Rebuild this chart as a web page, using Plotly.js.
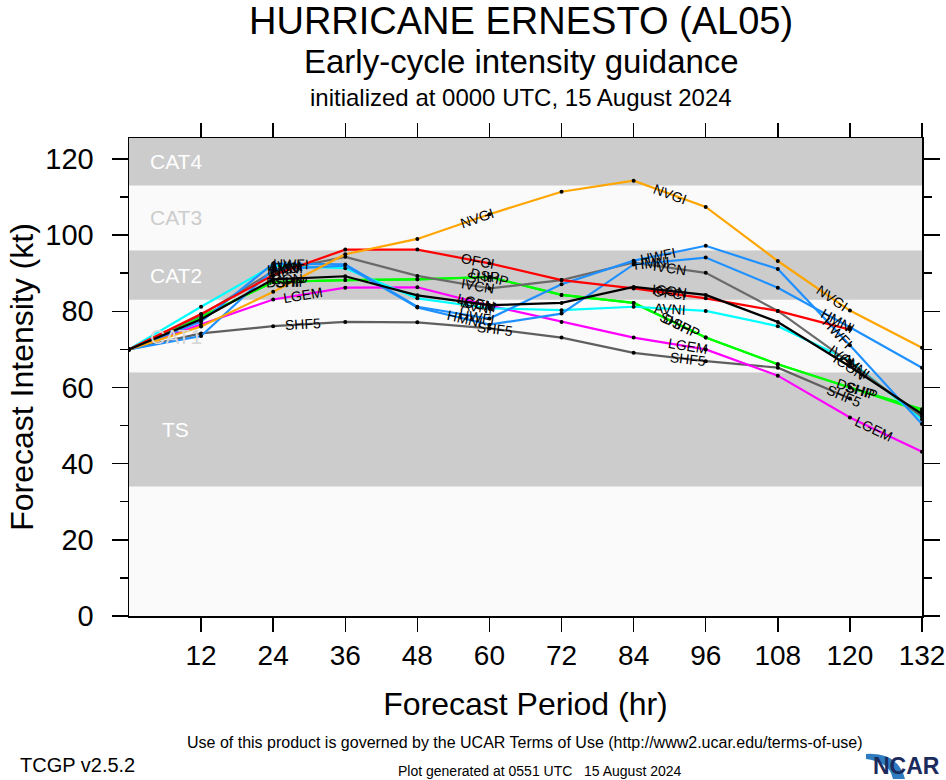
<!DOCTYPE html>
<html><head><meta charset="utf-8">
<script src="https://cdn.plot.ly/plotly-3.0.1.min.js"></script>
<style>body{margin:0;background:#fff}#chart{width:946px;height:780px}</style>
</head><body><div id="chart"></div>
<script>
// ---- data ----
const hours = [0,12,24,36,48,60,72,84,96,108,120,132];
const NVGI = [70,76,85.1,95,99,105.5,111.4,114.3,107.4,93.2,80.2,70.4];
const OFCI = [70,79.3,89.5,96.2,96.2,92.6,88.2,86,83.4,80.1,75.2];
const HWFI = [70,77.3,92.5,92.3,81.2,78.1,87.1,93.3,97.2,91.1,71.1,50.4];
const HMNI = [70,73.5,91,92,81,76.5,79.4,92.3,94.1,86.2,75.8,65.2];
const IVCN = [70,79,90.5,94.3,89.3,86,88.2,92.8,90.1,80.1,66.5,52.3];
const ICON = [70,77.9,88.4,89.2,84.2,81.6,82.2,86.4,84.3,77.2,65.5,53];
const AVNI = [70,81.2,92,91.3,83.4,80.8,80.3,81.2,80.1,76.1,67,51.6];
const SHIP = [70,78.6,87.7,88.2,88.4,89,84.3,82.2,73.1,66.1,60,54.3];
const DSHP = [70,78.6,87.7,88.2,88.4,89,84.3,82.2,73.1,66.1,60,53.7];
const LGEM = [70,76.6,83.1,86.2,86.3,81.5,77.2,73.1,70,63.1,52.1,43.1];
const SHF5 = [70,74.2,76.1,77.2,77.1,75.5,73.1,69.1,66.9,65.2,57.1];

const modelNames = ['SHF5','LGEM','DSHP','SHIP','AVNI','IVCN','HMNI','HWFI','OFCI','NVGI','ICON'];
const modelValues = [SHF5,LGEM,DSHP,SHIP,AVNI,IVCN,HMNI,HWFI,OFCI,NVGI,ICON];

const bandNames = ['TS','CAT1','CAT2','CAT3','CAT4'];
const bandLow  = [34,64,83,96,113];
const bandHigh = [64,83,96,113,137];

const xTicks = [12,24,36,48,60,72,84,96,108,120,132];
const yTicks = [0,20,40,60,80,100,120];

// ---- styles ----
const modelColors = {SHF5:'#5f5f5f',LGEM:'#ff00ff',DSHP:'#00ff00',SHIP:'#00ff00',AVNI:'#00ffff',
  IVCN:'#6a6a6a',HMNI:'#1e90ff',HWFI:'#1e90ff',OFCI:'#ff0000',NVGI:'#ffa500',ICON:'#000000'};
const labelHours = {SHF5:[29,61,93,119],LGEM:[29,58,93,124],DSHP:[26,60,92,121],SHIP:[27,59,91,122],
  AVNI:[26,58,90,121],IVCN:[26,58,90,119],HMNI:[26,56,87,118],HWFI:[27,58,88,118],
  OFCI:[26,58,90],NVGI:[58,90,117],ICON:[26,58,90,120]};
const bandFill = ['#cccccc','#fafafa','#cccccc','#fafafa','#cccccc'];
const bandTextColor = ['#ffffff','#d6d6d6','#ffffff','#cccccc','#ffffff'];

const L=129, R=922, T=138, B=616;
const W=R-L, H=B-T;
const YMAX=125.5, XMAX=132;
const pxPerX = W/XMAX, pxPerY = H/YMAX;
const px = x => (x-L)/W;
const py = y => (B-y)/H;

const font = 'Liberation Sans, Arial, Helvetica, sans-serif';

const traces = modelNames.map((n,i)=>({
  type:'scatter', mode:'lines+markers', name:n,
  x: hours.slice(0, modelValues[i].length), y: modelValues[i],
  line:{color:modelColors[n], width:2.2},
  marker:{color:'#000', size:4},
  hoverinfo:'name+x+y', showlegend:false
}));

function interp(vals, h){
  const n = vals.length;
  let k = Math.min(Math.floor(h/12), n-2);
  const h0 = hours[k], h1 = hours[k+1];
  const t = (h-h0)/(h1-h0);
  const y = vals[k] + t*(vals[k+1]-vals[k]);
  const ang = -Math.atan2((vals[k+1]-vals[k])*pxPerY, (h1-h0)*pxPerX)*180/Math.PI;
  return {y, ang};
}

const annotations = [];
modelNames.forEach((n,i)=>{
  labelHours[n].forEach(h=>{
    if (h > hours[modelValues[i].length-1]) return;
    const r = interp(modelValues[i], h);
    annotations.push({x:h, y:r.y, xref:'x', yref:'y', text:n, showarrow:false,
      textangle:r.ang, font:{family:font, size:14, color:'#000'}});
  });
});
bandNames.forEach((b,i)=>{
  const top = Math.min(bandHigh[i], YMAX);
  annotations.push({x:7.8, y:(bandLow[i]+top)/2, xref:'x', yref:'y', text:b, showarrow:false,
    font:{family:font, size:21, color:bandTextColor[i]}});
});
function paperText(x, y, text, size, opts){
  return Object.assign({x:px(x), y:py(y), xref:'paper', yref:'paper', text, showarrow:false,
    xanchor:'center', yanchor:'middle', font:{family:font, size, color:'#000'}}, opts||{});
}
annotations.push(paperText(521, 21, 'HURRICANE ERNESTO (AL05)', 38));
annotations.push(paperText(521, 62, 'Early-cycle intensity guidance', 33));
annotations.push(paperText(521, 97, 'initialized at 0000 UTC, 15 August 2024', 24));
annotations.push(paperText(525, 742, 'Use of this product is governed by the UCAR Terms of Use (http://www2.ucar.edu/terms-of-use)', 16));
annotations.push(paperText(18, 765, 'TCGP v2.5.2', 20, {xanchor:'left'}));
annotations.push(paperText(540, 771, 'Plot generated at 0551 UTC &nbsp; 15 August 2024', 14));
annotations.push(paperText(942, 766, '<b>NCAR</b>', 23, {xanchor:'right', font:{family:font, size:23, color:'#1b2b5c'}}));

const shapes = bandNames.map((b,i)=>({type:'rect', xref:'paper', yref:'y', x0:0, x1:1,
  y0:bandLow[i], y1:bandHigh[i], fillcolor:bandFill[i], line:{width:0}, layer:'below'}));
// NCAR swoosh
shapes.push({type:'path', xref:'paper', yref:'paper',
  path:`M ${px(866)} ${py(754)} Q ${px(898)} ${py(752)} ${px(905)} ${py(779)} L ${px(893)} ${py(779)} Q ${px(890)} ${py(762)} ${px(866)} ${py(759)} Z`,
  fillcolor:'#2f7bbf', line:{width:0}});

const layout = {
  width:946, height:780,
  margin:{l:L, r:946-R, t:T, b:780-B},
  paper_bgcolor:'#ffffff', plot_bgcolor:'#fafafa',
  xaxis:{range:[0,XMAX], tickvals:xTicks, ticktext:xTicks.map(String), ticks:'outside', ticklen:14, tickwidth:1.5,
    tickcolor:'#000', showline:true, linecolor:'#000', linewidth:1.5, mirror:'ticks',
    showgrid:false, zeroline:false, tickfont:{family:font, size:28, color:'#000'}, ticklabeloverflow:'allow',
    title:{text:'Forecast Period (hr)', font:{family:font, size:32, color:'#000'}, standoff:22}},
  yaxis:{range:[0,YMAX], tickvals:yTicks, ticks:'outside', ticklen:16, tickwidth:1.5,
    tickcolor:'#000', showline:true, linecolor:'#000', linewidth:1.5, mirror:'ticks',
    minor:{dtick:10, ticks:'outside', ticklen:8, tickwidth:1.5, tickcolor:'#000', showgrid:false},
    showgrid:false, zeroline:false, tickfont:{family:font, size:29, color:'#000'}, ticklabelstandoff:12,
    title:{text:'Forecast Intensity (kt)', font:{family:font, size:32, color:'#000'}, standoff:2}},
  shapes, annotations, showlegend:false
};
Plotly.newPlot('chart', traces, layout, {displayModeBar:false, staticPlot:true});
</script></body></html>
